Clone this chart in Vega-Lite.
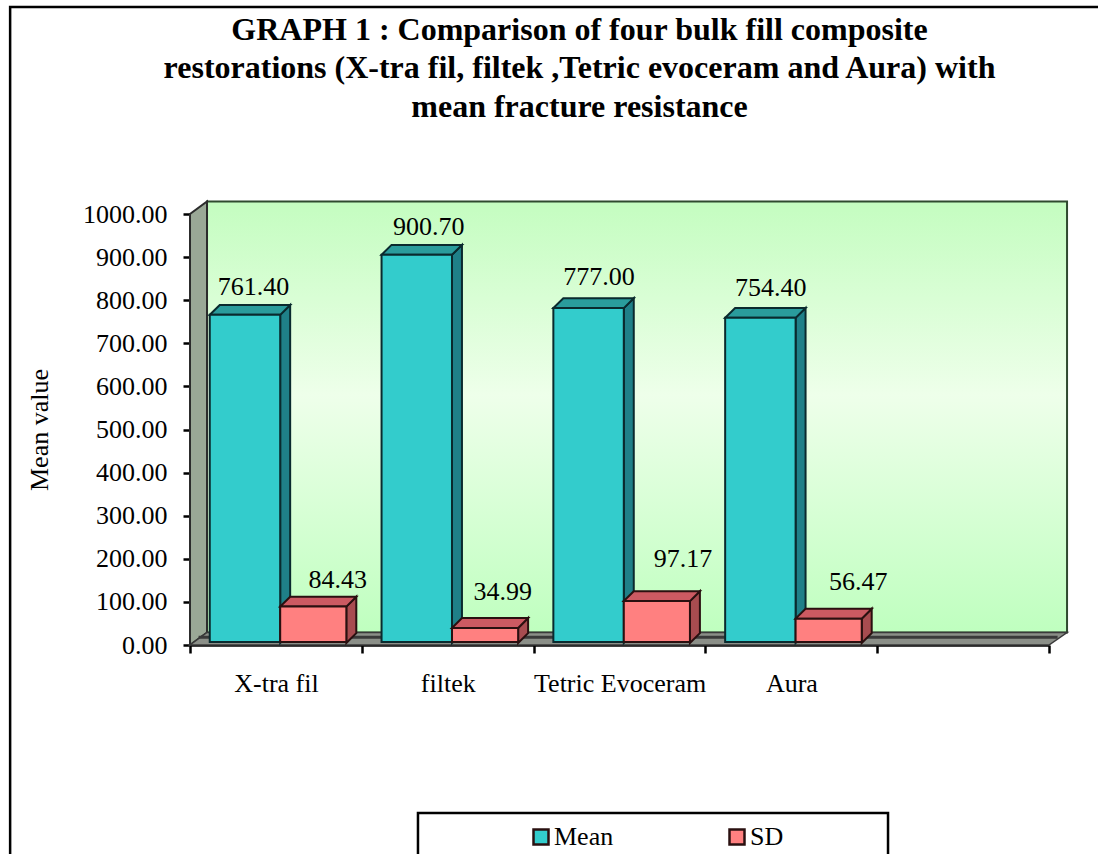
{
"$schema":"https://vega.github.io/schema/vega-lite/v6.json",
"autosize":{"type":"none"},
"padding":{"left":190,"top":214,"right":49,"bottom":209},
"width":859,"height":431,
"background":"white",
"title":{"text":["GRAPH 1 : Comparison of four bulk fill composite","restorations (X-tra fil, filtek ,Tetric evoceram and Aura) with","mean fracture resistance"],"font":"Liberation Serif","fontSize":32,"fontWeight":"bold","color":"black","anchor":"middle","frame":"group","dx":-40,"offset":-150,"lineHeight":38.5,"baseline":"bottom"},
"config":{"view":{"stroke":null},"text":{"font":"Liberation Serif"}},
"datasets":{
"bars":[
{"cat":"X-tra fil","series":"Mean","value":761.40,"x0":0.115,"x1":0.525,"lx":0.37,"ly":831},
{"cat":"X-tra fil","series":"SD","value":84.43,"x0":0.525,"x1":0.91,"lx":0.86,"ly":151},
{"cat":"filtek","series":"Mean","value":900.70,"x0":1.115,"x1":1.525,"lx":1.39,"ly":970},
{"cat":"filtek","series":"SD","value":34.99,"x0":1.525,"x1":1.91,"lx":1.82,"ly":123},
{"cat":"Tetric Evoceram","series":"Mean","value":777.00,"x0":2.115,"x1":2.525,"lx":2.38,"ly":854},
{"cat":"Tetric Evoceram","series":"SD","value":97.17,"x0":2.525,"x1":2.91,"lx":2.87,"ly":200},
{"cat":"Aura","series":"Mean","value":754.40,"x0":3.115,"x1":3.525,"lx":3.38,"ly":828},
{"cat":"Aura","series":"SD","value":56.47,"x0":3.525,"x1":3.91,"lx":3.89,"ly":146}
],
"faces":[
{"b":"a","s":"Mean","f":"side","p":0.525,"lo":0,"hi":761.4},{"b":"a","s":"Mean","f":"side","p":0.583,"lo":23,"hi":784.4},
{"b":"a","s":"Mean","f":"top","p":0.115,"lo":761.4,"hi":761.4},{"b":"a","s":"Mean","f":"top","p":0.173,"lo":761.4,"hi":784.4},{"b":"a","s":"Mean","f":"top","p":0.525,"lo":761.4,"hi":784.4},{"b":"a","s":"Mean","f":"top","p":0.583,"lo":784.4,"hi":784.4},
{"b":"b","s":"SD","f":"side","p":0.91,"lo":0,"hi":84.43},{"b":"b","s":"SD","f":"side","p":0.968,"lo":23,"hi":107.43},
{"b":"b","s":"SD","f":"top","p":0.525,"lo":84.43,"hi":84.43},{"b":"b","s":"SD","f":"top","p":0.583,"lo":84.43,"hi":107.43},{"b":"b","s":"SD","f":"top","p":0.91,"lo":84.43,"hi":107.43},{"b":"b","s":"SD","f":"top","p":0.968,"lo":107.43,"hi":107.43},
{"b":"c","s":"Mean","f":"side","p":1.525,"lo":0,"hi":900.7},{"b":"c","s":"Mean","f":"side","p":1.583,"lo":23,"hi":923.7},
{"b":"c","s":"Mean","f":"top","p":1.115,"lo":900.7,"hi":900.7},{"b":"c","s":"Mean","f":"top","p":1.173,"lo":900.7,"hi":923.7},{"b":"c","s":"Mean","f":"top","p":1.525,"lo":900.7,"hi":923.7},{"b":"c","s":"Mean","f":"top","p":1.583,"lo":923.7,"hi":923.7},
{"b":"d","s":"SD","f":"side","p":1.91,"lo":0,"hi":34.99},{"b":"d","s":"SD","f":"side","p":1.968,"lo":23,"hi":57.99},
{"b":"d","s":"SD","f":"top","p":1.525,"lo":34.99,"hi":34.99},{"b":"d","s":"SD","f":"top","p":1.583,"lo":34.99,"hi":57.99},{"b":"d","s":"SD","f":"top","p":1.91,"lo":34.99,"hi":57.99},{"b":"d","s":"SD","f":"top","p":1.968,"lo":57.99,"hi":57.99},
{"b":"e","s":"Mean","f":"side","p":2.525,"lo":0,"hi":777},{"b":"e","s":"Mean","f":"side","p":2.583,"lo":23,"hi":800},
{"b":"e","s":"Mean","f":"top","p":2.115,"lo":777,"hi":777},{"b":"e","s":"Mean","f":"top","p":2.173,"lo":777,"hi":800},{"b":"e","s":"Mean","f":"top","p":2.525,"lo":777,"hi":800},{"b":"e","s":"Mean","f":"top","p":2.583,"lo":800,"hi":800},
{"b":"f","s":"SD","f":"side","p":2.91,"lo":0,"hi":97.17},{"b":"f","s":"SD","f":"side","p":2.968,"lo":23,"hi":120.17},
{"b":"f","s":"SD","f":"top","p":2.525,"lo":97.17,"hi":97.17},{"b":"f","s":"SD","f":"top","p":2.583,"lo":97.17,"hi":120.17},{"b":"f","s":"SD","f":"top","p":2.91,"lo":97.17,"hi":120.17},{"b":"f","s":"SD","f":"top","p":2.968,"lo":120.17,"hi":120.17},
{"b":"g","s":"Mean","f":"side","p":3.525,"lo":0,"hi":754.4},{"b":"g","s":"Mean","f":"side","p":3.583,"lo":23,"hi":777.4},
{"b":"g","s":"Mean","f":"top","p":3.115,"lo":754.4,"hi":754.4},{"b":"g","s":"Mean","f":"top","p":3.173,"lo":754.4,"hi":777.4},{"b":"g","s":"Mean","f":"top","p":3.525,"lo":754.4,"hi":777.4},{"b":"g","s":"Mean","f":"top","p":3.583,"lo":777.4,"hi":777.4},
{"b":"h","s":"SD","f":"side","p":3.91,"lo":0,"hi":56.47},{"b":"h","s":"SD","f":"side","p":3.968,"lo":23,"hi":79.47},
{"b":"h","s":"SD","f":"top","p":3.525,"lo":56.47,"hi":56.47},{"b":"h","s":"SD","f":"top","p":3.583,"lo":56.47,"hi":79.47},{"b":"h","s":"SD","f":"top","p":3.91,"lo":56.47,"hi":79.47},{"b":"h","s":"SD","f":"top","p":3.968,"lo":79.47,"hi":79.47}
]
},
"layer":[
{"data":{"values":[{"x":-1.047,"x2":5.6,"y":1480,"y2":-600}]},
 "mark":{"type":"rect","fill":"transparent","stroke":"black","strokeWidth":2.5},
 "encoding":{"x":{"field":"x","type":"quantitative","scale":{"domain":[0,5],"nice":false,"zero":false},"axis":{"values":[0,1,2,3,4,5],"grid":false,"title":null,"labelExpr":"['X-tra fil','filtek','Tetric Evoceram','Aura','',''][datum.value]","labelFont":"Liberation Serif","labelFontSize":26,"labelColor":"black","labelOffset":86,"labelPadding":30,"labelBaseline":"middle","tickColor":"black","tickWidth":2.5,"tickSize":8,"domainColor":"black","domainWidth":2.5,"labelFlush":false,"labelBound":false,"labelOverlap":false}},"x2":{"field":"x2"},"y":{"field":"y","type":"quantitative","scale":{"domain":[0,1000],"nice":false},"axis":{"values":[0,100,200,300,400,500,600,700,800,900,1000],"format":".2f","grid":false,"title":"Mean value","titleFont":"Liberation Serif","titleFontSize":26,"titleFontWeight":"normal","titleColor":"black","titlePadding":30,"labelFont":"Liberation Serif","labelFontSize":26,"labelColor":"black","labelPadding":16,"tickColor":"black","tickWidth":2.5,"tickSize":7,"domainColor":"black","domainWidth":2.5,"labelBound":false,"labelFlush":false,"labelOverlap":false}},"y2":{"field":"y2"}}},
{"data":{"values":[{"x":0.099,"x2":5.105,"y":29,"y2":1029}]},
 "mark":{"type":"rect","stroke":"#2f4a2f","strokeWidth":2,"fill":{"gradient":"linear","x1":0,"y1":0,"x2":0,"y2":1,"stops":[{"offset":0,"color":"#c4fdc0"},{"offset":0.45,"color":"#eeffea"},{"offset":1,"color":"#bfffbf"}]}},
 "encoding":{"x":{"field":"x","type":"quantitative"},"x2":{"field":"x2"},"y":{"field":"y","type":"quantitative"},"y2":{"field":"y2"}}},
{"data":{"values":[{"p":0,"lo":0,"hi":1000},{"p":0.099,"lo":29,"hi":1029}]},
 "mark":{"type":"area","fill":"#9aa896","stroke":"#2c2c2c","strokeWidth":2},
 "encoding":{"x":{"field":"p","type":"quantitative"},"y":{"field":"lo","type":"quantitative"},"y2":{"field":"hi"}}},
{"data":{"values":[{"p":0,"lo":0,"hi":0},{"p":0.099,"lo":0,"hi":29},{"p":5,"lo":0,"hi":29},{"p":5.105,"lo":29,"hi":29}]},
 "mark":{"type":"area","fill":"#8b8f88","stroke":"#3a3a3a","strokeWidth":1.5},
 "encoding":{"x":{"field":"p","type":"quantitative"},"y":{"field":"lo","type":"quantitative"},"y2":{"field":"hi"}}},
{"data":{"values":[{"x":0.05,"x2":5.05,"y":18}]},
 "mark":{"type":"rule","stroke":"#3a3a3a","strokeWidth":3},
 "encoding":{"x":{"field":"x","type":"quantitative"},"x2":{"field":"x2"},"y":{"field":"y","type":"quantitative"}}},
{"data":{"name":"faces"},"transform":[{"filter":"datum.s=='Mean'&&datum.f=='side'"}],
 "mark":{"type":"area","fill":"#1f8088","stroke":"#0a2a2e","strokeWidth":2,"yOffset":-2,"y2Offset":-2},
 "encoding":{"x":{"field":"p","type":"quantitative"},"y":{"field":"lo","type":"quantitative"},"y2":{"field":"hi"},"detail":{"field":"b"}}},
{"data":{"name":"faces"},"transform":[{"filter":"datum.s=='Mean'&&datum.f=='top'"}],
 "mark":{"type":"area","fill":"#2a9c9c","stroke":"#0a2a2e","strokeWidth":2,"yOffset":-2,"y2Offset":-2},
 "encoding":{"x":{"field":"p","type":"quantitative"},"y":{"field":"lo","type":"quantitative"},"y2":{"field":"hi"},"detail":{"field":"b"}}},
{"data":{"name":"bars"},"transform":[{"filter":"datum.series=='Mean'"}],
 "mark":{"type":"rect","stroke":"#0a2a2e","strokeWidth":2,"yOffset":-2,"y2Offset":-3},
 "encoding":{"x":{"field":"x0","type":"quantitative"},"x2":{"field":"x1"},"y":{"field":"value","type":"quantitative"},"y2":{"datum":0},"fill":{"field":"series","type":"nominal","scale":{"domain":["Mean","SD"],"range":["#33CCCC","#FF8080"]},"legend":{"title":null,"orient":"none","legendX":338,"legendY":608,"direction":"horizontal","columns":2,"symbolType":"square","symbolSize":225,"symbolStrokeColor":"black","symbolStrokeWidth":2.5,"symbolOpacity":1,"labelFont":"Liberation Serif","labelFontSize":26,"labelColor":"black","labelOffset":0,"columnPadding":110,"clipHeight":30}}}},
{"data":{"name":"faces"},"transform":[{"filter":"datum.s=='SD'&&datum.f=='side'"}],
 "mark":{"type":"area","fill":"#a84c50","stroke":"#2a1010","strokeWidth":2,"yOffset":-2,"y2Offset":-2},
 "encoding":{"x":{"field":"p","type":"quantitative"},"y":{"field":"lo","type":"quantitative"},"y2":{"field":"hi"},"detail":{"field":"b"}}},
{"data":{"name":"faces"},"transform":[{"filter":"datum.s=='SD'&&datum.f=='top'"}],
 "mark":{"type":"area","fill":"#cc5a62","stroke":"#2a1010","strokeWidth":2,"yOffset":-2,"y2Offset":-2},
 "encoding":{"x":{"field":"p","type":"quantitative"},"y":{"field":"lo","type":"quantitative"},"y2":{"field":"hi"},"detail":{"field":"b"}}},
{"data":{"name":"bars"},"transform":[{"filter":"datum.series=='SD'"}],
 "mark":{"type":"rect","stroke":"#2a1010","strokeWidth":2,"yOffset":-2,"y2Offset":-3},
 "encoding":{"x":{"field":"x0","type":"quantitative"},"x2":{"field":"x1"},"y":{"field":"value","type":"quantitative"},"y2":{"datum":0},"fill":{"field":"series","type":"nominal"}}},
{"data":{"name":"bars"},
 "mark":{"type":"text","font":"Liberation Serif","fontSize":26,"color":"black","baseline":"middle","align":"center"},
 "encoding":{"x":{"field":"lx","type":"quantitative"},"y":{"field":"ly","type":"quantitative"},"text":{"field":"value","type":"quantitative","format":".2f"}}},
{"data":{"values":[{"x":1.327,"x2":4.063,"y":-390,"y2":-600}]},
 "mark":{"type":"rect","fill":"white","stroke":"black","strokeWidth":2.5},
 "encoding":{"x":{"field":"x","type":"quantitative"},"x2":{"field":"x2"},"y":{"field":"y","type":"quantitative"},"y2":{"field":"y2"}}}
]
}
